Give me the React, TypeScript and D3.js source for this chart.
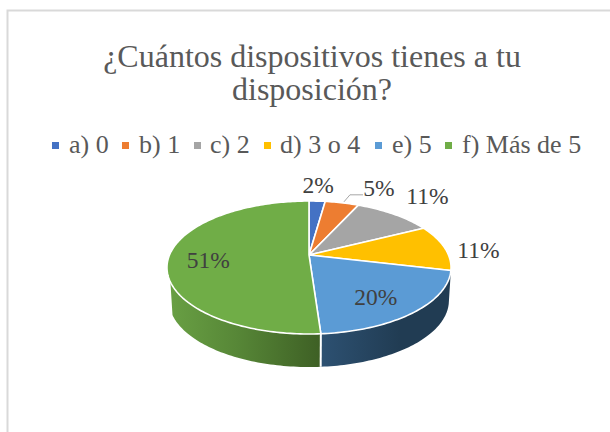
import React from "react";
import * as d3 from "d3";

const categories = ["a) 0", "b) 1", "c) 2", "d) 3 o 4", "e) 5", "f) Más de 5"];
const shares = [2.2, 4.6, 10.7, 11.2, 20.2, 51.1];
const colors = ["#4472c4", "#ed7d31", "#a5a5a5", "#ffc000", "#5b9bd5", "#70ad47"];
const titleLines = ["¿Cuántos dispositivos tienes a tu", "disposición?"];

// Layout (not data)
const legendMarkerX = [52, 122, 194, 264, 375, 445];
const legendTextX = [69, 139, 210, 280, 392, 462];
const labelOffsets = [[1, -15], [37, -14], [33.5, -17], [34, 3], [-38.5, -14], [39.5, 4]];

const CX = 309, APEX_Y = 255, PERSP = -0.188, A = 64.15, D = 139.5;
const DEPTH = 33, BOTTOM_SCALE = 0.985;

function project(theta: number, r = 1, depth = 0, scale = 1): [number, number] {
  const u = r * Math.sin(theta);
  const v = -r * Math.cos(theta);
  const w = 1 + PERSP * v;
  return [CX + (scale * D * u) / w, APEX_Y + depth + (A * v) / w];
}

function arcPoints(a0: number, a1: number, depth = 0, scale = 1): [number, number][] {
  const n = Math.max(2, Math.ceil(Math.abs(a1 - a0) / 0.02));
  return d3.range(n + 1).map((i) => project(a0 + ((a1 - a0) * i) / n, 1, depth, scale));
}

const line = d3.line();
const pie = d3.pie<number>().sort(null).value((d) => d);
const TEXT_FONT = "'Liberation Serif', 'Times New Roman', serif";

export default function App() {
  const arcs = pie(shares);
  const blue = arcs[4];
  const rad = (deg: number) => (deg * Math.PI) / 180;

  const sidePath = (a0: number, a1: number) =>
    line([...arcPoints(a0, a1), ...arcPoints(a1, a0, DEPTH, BOTTOM_SCALE)]) + "Z";

  const sepTop = project(blue.endAngle);
  const sepBottom = project(blue.endAngle, 1, DEPTH, BOTTOM_SCALE);
  const fiveRim = project((arcs[1].startAngle + arcs[1].endAngle) / 2);

  return (
    <svg width={610} height={432} style={{ position: "absolute", left: 0, top: 0, background: "#fff" }}>
      <defs>
        <linearGradient id="greenSide" gradientUnits="userSpaceOnUse" x1={168} x2={320} y1={0} y2={0}>
          <stop offset="0" stopColor="#69a044" />
          <stop offset="0.45" stopColor="#578737" />
          <stop offset="1" stopColor="#3e6025" />
        </linearGradient>
        <linearGradient id="blueSide" gradientUnits="userSpaceOnUse" x1={320} x2={400} y1={0} y2={0}>
          <stop offset="0" stopColor="#2d5172" />
          <stop offset="1" stopColor="#213c53" />
        </linearGradient>
      </defs>

      <path d="M610,10.5H7.5V432" fill="none" stroke="#d9d9d9" strokeWidth={2} />

      {titleLines.map((t, i) => (
        <text key={t} x={312} y={67 + i * 33} textAnchor="middle" fontFamily={TEXT_FONT} fontSize={32} fill="#595959">
          {t}
        </text>
      ))}

      {categories.map((c, i) => (
        <g key={c}>
          <rect x={legendMarkerX[i]} y={142} width={7} height={7} fill={colors[i]} />
          <text x={legendTextX[i]} y={153} fontFamily={TEXT_FONT} fontSize={26} fill="#595959">
            {c}
          </text>
        </g>
      ))}

      <path d={sidePath(rad(103), blue.endAngle)} fill="url(#blueSide)" />
      <path d={sidePath(blue.endAngle, rad(247))} fill="url(#greenSide)" />
      <path d={line([sepTop, sepBottom]) ?? ""} stroke="#fff" strokeWidth={2} fill="none" />

      {arcs.map((a, i) => (
        <path
          key={categories[i]}
          d={line([[CX, APEX_Y], ...arcPoints(a.startAngle, a.endAngle)]) + "Z"}
          fill={colors[i]}
          stroke="#fff"
          strokeWidth={1.6}
          strokeLinejoin="round"
        />
      ))}

      <path
        d={line([[fiveRim[0] + 2, fiveRim[1] - 1], [fiveRim[0] + 8, fiveRim[1] - 8], [fiveRim[0] + 21, fiveRim[1] - 8]]) ?? ""}
        fill="none"
        stroke="#a6a6a6"
        strokeWidth={1}
      />

      {arcs.map((a, i) => {
        const [x, y] = project((a.startAngle + a.endAngle) / 2);
        return (
          <text
            key={categories[i]}
            x={x + labelOffsets[i][0]}
            y={y + labelOffsets[i][1] + 7}
            textAnchor="middle"
            fontFamily={TEXT_FONT}
            fontSize={23.5}
            fill="#404040"
          >
            {d3.format(".0f")(shares[i])}%
          </text>
        );
      })}
    </svg>
  );
}
